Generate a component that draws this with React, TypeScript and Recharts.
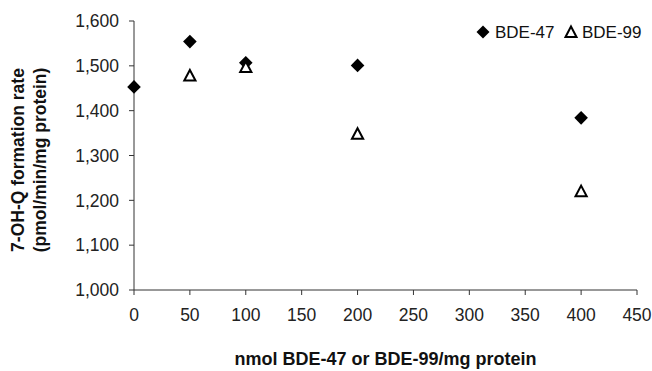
import { ScatterChart, Scatter, XAxis, YAxis } from 'recharts'

const doses = [0, 50, 100, 200, 400]
const bde47 = [1453, 1554, 1507, 1501, 1384]
const bde99Doses = [50, 100, 200, 400]
const bde99 = [1479, 1498, 1349, 1221]

const xTicks = [0, 50, 100, 150, 200, 250, 300, 350, 400, 450]
const yTicks = [1000, 1100, 1200, 1300, 1400, 1500, 1600]

const data47 = doses.map((d, i) => ({ x: d, y: bde47[i] }))
const data99 = bde99Doses.map((d, i) => ({ x: d, y: bde99[i] }))

const FONT = '"Liberation Sans", Arial, sans-serif'
const AXIS = '#333'

function Diamond({ cx, cy }: { cx?: number; cy?: number }) {
  if (cx == null || cy == null) return null
  const r = 6.8
  return <path d={`M${cx},${cy - r}L${cx + r},${cy}L${cx},${cy + r}L${cx - r},${cy}Z`} fill="#000" />
}

function Triangle({ cx, cy }: { cx?: number; cy?: number }) {
  if (cx == null || cy == null) return null
  const w = 5.6
  const h = 5.3
  return (
    <path
      d={`M${cx},${cy - h}L${cx + w},${cy + h}L${cx - w},${cy + h}Z`}
      fill="#fff"
      stroke="#000"
      strokeWidth={2}
    />
  )
}

// legend drawn as an overlay so it doesn't eat into the plot area
function LegendBox() {
  return (
    <svg width={180} height={24} style={{ position: 'absolute', left: 473, top: 20 }}>
      <path d="M10,5.5L16.5,12L10,18.5L3.5,12Z" fill="#000" />
      <text x={22} y={18} fontSize={17} fontFamily={FONT} fill="#111">BDE-47</text>
      <path d="M98,6.5L103.5,17L92.5,17Z" fill="none" stroke="#000" strokeWidth={2} />
      <text x={109} y={18} fontSize={17} fontFamily={FONT} fill="#111">BDE-99</text>
    </svg>
  )
}

function YLabel() {
  return (
    <text
      transform="translate(0,160) rotate(-90)"
      textAnchor="middle"
      fontSize={17.5}
      fontWeight="bold"
      fontFamily={FONT}
      fill="#111"
    >
      <tspan x={0} y={24}>7-OH-Q formation rate</tspan>
      <tspan x={0} y={46}>(pmol/min/mg protein)</tspan>
    </text>
  )
}

export default function App() {
  return (
    <div style={{ position: 'absolute', left: 0, top: 0, width: 652, height: 371, background: '#fff' }}>
      <ScatterChart width={652} height={371} margin={{ top: 21, right: 15, bottom: 51, left: 74 }}>
        <XAxis
          type="number"
          dataKey="x"
          domain={[0, 450]}
          ticks={xTicks}
          interval={0}
          height={30}
          tickSize={5}
          tickMargin={14}
          stroke={AXIS}
          tick={{ fill: '#222', fontSize: 17.5, fontFamily: FONT }}
          label={{
            value: 'nmol BDE-47 or BDE-99/mg protein',
            position: 'insideBottom',
            offset: -45,
            fill: '#111',
            fontSize: 18,
            fontWeight: 'bold',
            fontFamily: FONT,
          }}
        />
        <YAxis
          type="number"
          dataKey="y"
          domain={[1000, 1600]}
          ticks={yTicks}
          interval={0}
          width={60}
          tickSize={5}
          tickMargin={10}
          stroke={AXIS}
          tickFormatter={(v: number) => v.toLocaleString('en-US')}
          tick={{ fill: '#222', fontSize: 17.5, fontFamily: FONT }}
          label={{ content: () => <YLabel /> }}
        />
        <Scatter name="BDE-47" data={data47} shape={<Diamond />} isAnimationActive={false} />
        <Scatter name="BDE-99" data={data99} shape={<Triangle />} isAnimationActive={false} />
      </ScatterChart>
      <LegendBox />
    </div>
  )
}
